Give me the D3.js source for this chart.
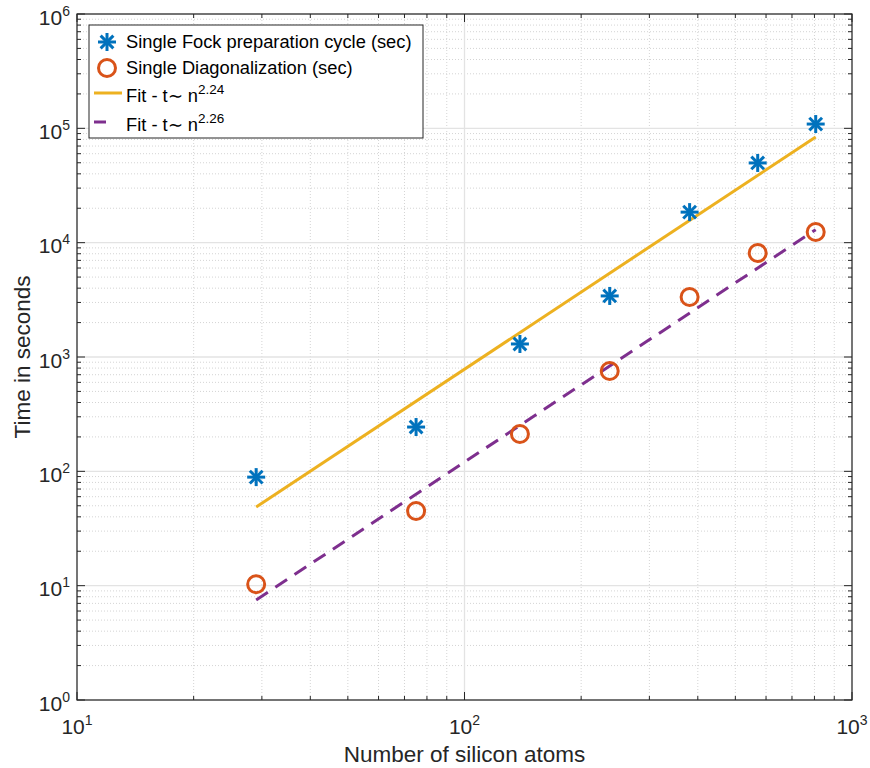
<!DOCTYPE html>
<html><head><meta charset="utf-8">
<script src="https://cdn.jsdelivr.net/npm/d3@7"></script>
<style>body{margin:0;background:#fff}svg{font-family:"Liberation Sans",Arial,sans-serif}</style>
</head><body><svg id="c" width="870" height="768"></svg>
<script>
const atoms = [29, 75, 139, 237, 381, 571, 806];
const fockTime = [89, 244, 1300, 3420, 18500, 49800, 109000];
const diagTime = [10.3, 45, 212, 755, 3350, 8130, 12400];
const fitX = [29, 806];
const fitFock = [48.8, 84000];
const fitDiag = [7.5, 13000];
const xTickExp = [1, 2, 3];
const yTickExp = [0, 1, 2, 3, 4, 5, 6];
const legendLabels = ["Single Fock preparation cycle (sec)", "Single Diagonalization (sec)", "Fit - t\u223C n", "Fit - t\u223C n"];
const legendSup = [null, null, "2.24", "2.26"];
const colors = {fock:"#0072BD", diag:"#D95319", fit1:"#EDB120", fit2:"#7E2F8E"};

const L=77, R=852, T=14, B=700;
const svg = d3.select("#c");
const x = d3.scaleLog().domain([10,1000]).range([L,R]);
const y = d3.scaleLog().domain([1,1e6]).range([B,T]);

const g = svg.append("g");
// minor grid
const xMinor=[], yMinor=[];
for (let e=1;e<3;e++) for (let k=2;k<10;k++) xMinor.push(k*Math.pow(10,e));
for (let e=0;e<6;e++) for (let k=2;k<10;k++) yMinor.push(k*Math.pow(10,e));
g.selectAll(".xm").data(xMinor).enter().append("line")
 .attr("x1",d=>x(d)).attr("x2",d=>x(d)).attr("y1",T).attr("y2",B)
 .attr("stroke","#d4d4d4").attr("stroke-width",1).attr("stroke-dasharray","1,2");
g.selectAll(".ym").data(yMinor).enter().append("line")
 .attr("y1",d=>y(d)).attr("y2",d=>y(d)).attr("x1",L).attr("x2",R)
 .attr("stroke","#d4d4d4").attr("stroke-width",1).attr("stroke-dasharray","1,2");
// major grid
g.selectAll(".xg").data(xTickExp.map(e=>Math.pow(10,e))).enter().append("line")
 .attr("x1",d=>x(d)).attr("x2",d=>x(d)).attr("y1",T).attr("y2",B)
 .attr("stroke","#e3e3e3").attr("stroke-width",1.3);
g.selectAll(".yg").data(yTickExp.map(e=>Math.pow(10,e))).enter().append("line")
 .attr("y1",d=>y(d)).attr("y2",d=>y(d)).attr("x1",L).attr("x2",R)
 .attr("stroke","#e3e3e3").attr("stroke-width",1.3);

// fit lines
const line = d3.line().x(d=>x(d[0])).y(d=>y(d[1]));
svg.append("path").datum(fitX.map((v,i)=>[v,fitFock[i]])).attr("d",line)
 .attr("stroke",colors.fit1).attr("stroke-width",3).attr("fill","none");
svg.append("path").datum(fitX.map((v,i)=>[v,fitDiag[i]])).attr("d",line)
 .attr("stroke",colors.fit2).attr("stroke-width",3).attr("fill","none").attr("stroke-dasharray","14,9");

// markers
function star(sel, cx, cy, s){
  const gg = sel.append("g").attr("transform",`translate(${cx},${cy})`);
  const a = s*0.7071;
  [[0,-s,0,s],[-s,0,s,0],[-a,-a,a,a],[-a,a,a,-a]].forEach(p=>
    gg.append("line").attr("x1",p[0]).attr("y1",p[1]).attr("x2",p[2]).attr("y2",p[3])
      .attr("stroke",colors.fock).attr("stroke-width",3));
}
atoms.forEach((n,i)=>star(svg, x(n), y(fockTime[i]), 9));
svg.selectAll(".dc").data(atoms).enter().append("circle")
 .attr("cx",d=>x(d)).attr("cy",(d,i)=>y(diagTime[i])).attr("r",8.5)
 .attr("fill","none").attr("stroke",colors.diag).attr("stroke-width",3);

// axes box
const axg = svg.append("g").attr("stroke","#262626").attr("fill","none");
axg.append("rect").attr("x",L).attr("y",T).attr("width",R-L).attr("height",B-T).attr("stroke-width",1.2);
// ticks
const xMaj = xTickExp.map(e=>Math.pow(10,e)), yMaj = yTickExp.map(e=>Math.pow(10,e));
xMinor.forEach(d=>{axg.append("line").attr("x1",x(d)).attr("x2",x(d)).attr("y1",B).attr("y2",B-4);
  axg.append("line").attr("x1",x(d)).attr("x2",x(d)).attr("y1",T).attr("y2",T+4);});
xMaj.forEach(d=>{axg.append("line").attr("x1",x(d)).attr("x2",x(d)).attr("y1",B).attr("y2",B-8);
  axg.append("line").attr("x1",x(d)).attr("x2",x(d)).attr("y1",T).attr("y2",T+8);});
yMinor.forEach(d=>{axg.append("line").attr("y1",y(d)).attr("y2",y(d)).attr("x1",L).attr("x2",L+4);
  axg.append("line").attr("y1",y(d)).attr("y2",y(d)).attr("x1",R).attr("x2",R-4);});
yMaj.forEach(d=>{axg.append("line").attr("y1",y(d)).attr("y2",y(d)).attr("x1",L).attr("x2",L+8);
  axg.append("line").attr("y1",y(d)).attr("y2",y(d)).attr("x1",R).attr("x2",R-8);});

// tick labels
xTickExp.forEach(e=>{
  const t = svg.append("text").attr("x",x(Math.pow(10,e))).attr("y",734).attr("text-anchor","middle")
    .attr("font-size",21).attr("fill","#262626");
  t.append("tspan").text("10");
  t.append("tspan").attr("dy",-9).attr("font-size",14).text(e);
});
yTickExp.forEach(e=>{
  const t = svg.append("text").attr("x",70).attr("y",y(Math.pow(10,e))+10.5).attr("text-anchor","end")
    .attr("font-size",21).attr("fill","#262626");
  t.append("tspan").text("10");
  t.append("tspan").attr("dy",-9).attr("font-size",14).text(e);
});

// axis labels
svg.append("text").attr("x",(L+R)/2).attr("y",762).attr("text-anchor","middle")
  .attr("font-size",22.5).attr("fill","#262626").text("Number of silicon atoms");
svg.append("text").attr("transform",`translate(30,${(T+B)/2}) rotate(-90)`).attr("text-anchor","middle")
  .attr("font-size",22.5).attr("fill","#262626").text("Time in seconds");

// legend
const lg = svg.append("g");
lg.append("rect").attr("x",89).attr("y",25).attr("width",334).attr("height",113)
  .attr("fill","#fff").attr("stroke","#262626").attr("stroke-width",1);
const rows=[42,68,93,122];
star(lg, 107, rows[0], 9);
lg.append("circle").attr("cx",107).attr("cy",rows[1]).attr("r",8.5).attr("fill","none")
  .attr("stroke",colors.diag).attr("stroke-width",3);
lg.append("line").attr("x1",94).attr("x2",122).attr("y1",rows[2]).attr("y2",rows[2])
  .attr("stroke",colors.fit1).attr("stroke-width",3);
lg.append("line").attr("x1",94).attr("x2",106).attr("y1",rows[3]).attr("y2",rows[3])
  .attr("stroke",colors.fit2).attr("stroke-width",3);
legendLabels.forEach((s,i)=>{
  const t = lg.append("text").attr("x",126).attr("y",[48,74,102,131][i]).attr("font-size",18.3).attr("fill","#000");
  t.append("tspan").text(s);
  if (legendSup[i]) t.append("tspan").attr("dy",-8).attr("font-size",13.5).text(legendSup[i]);
});
</script></body></html>
